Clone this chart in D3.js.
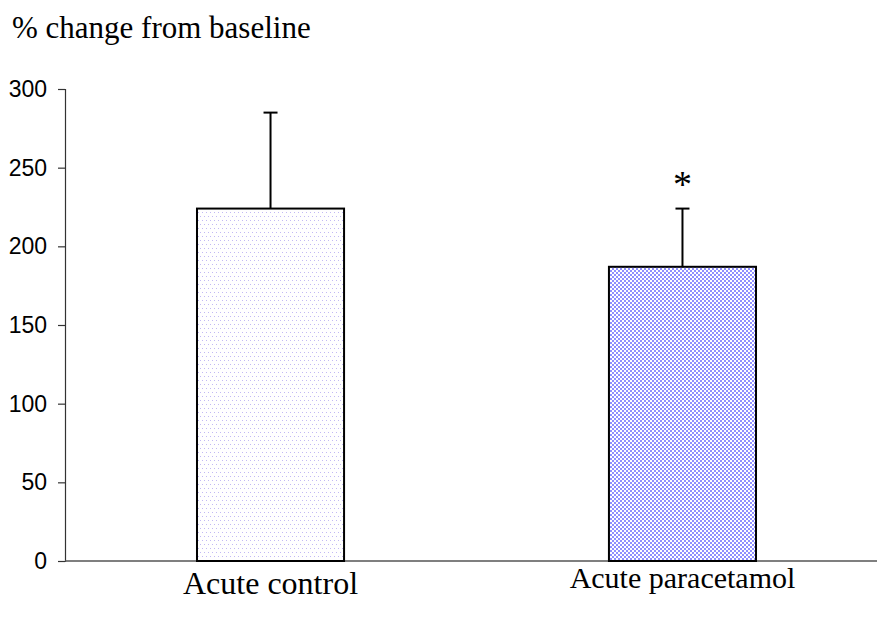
<!DOCTYPE html>
<html>
<head>
<meta charset="utf-8">
<script src="https://cdn.jsdelivr.net/npm/d3@7"></script>
<style>
  html, body { margin: 0; padding: 0; background: #fff; }
  svg { display: block; }
</style>
</head>
<body>
<svg id="chart" width="877" height="623"></svg>
<script>
// Groups, mean % change and upper error (mean + SD)
const categories = ["Acute control", "Acute paracetamol"];
const means = [224, 187];
const errorTops = [285, 224];
const significant = [false, true];
const yTicks = [0, 50, 100, 150, 200, 250, 300];

const svg = d3.select("#chart");
const W = 877, H = 623;
const margin = { left: 65, top: 89, bottom: 62 };

const y = d3.scaleLinear().domain([0, 300]).range([H - margin.bottom, margin.top]);
const x = d3.scaleBand().domain(categories).range([margin.left, 888])
  .paddingInner(0.643).paddingOuter(0.3204);

const serif = "Liberation Serif, Times New Roman, serif";
const sans = "Liberation Sans, Arial, sans-serif";

// Fill patterns
const defs = svg.append("defs");
const dots = defs.append("pattern").attr("id", "dots")
  .attr("patternUnits", "userSpaceOnUse").attr("width", 4).attr("height", 8);
dots.append("rect").attr("width", 4).attr("height", 8).attr("fill", "#fff");
dots.append("rect").attr("x", 0).attr("y", 0).attr("width", 1).attr("height", 1).attr("fill", "#c2b9f3");
dots.append("rect").attr("x", 2).attr("y", 4).attr("width", 1).attr("height", 1).attr("fill", "#c2b9f3");

const checker = defs.append("pattern").attr("id", "checker")
  .attr("patternUnits", "userSpaceOnUse").attr("width", 4).attr("height", 4);
checker.append("rect").attr("width", 4).attr("height", 4).attr("fill", "#fff");
checker.append("rect").attr("x", 0).attr("y", 0).attr("width", 2).attr("height", 2).attr("fill", "#8f8fff");
checker.append("rect").attr("x", 2).attr("y", 2).attr("width", 2).attr("height", 2).attr("fill", "#8f8fff");

const fills = ["url(#dots)", "url(#checker)"];

// Y axis
const yAxis = d3.axisLeft(y).tickValues(yTicks).tickSize(7).tickPadding(11);
const gy = svg.append("g").attr("transform", `translate(${margin.left},0)`).call(yAxis);
gy.select(".domain").attr("stroke", "#333").attr("stroke-width", 1.2);
gy.selectAll(".tick line").attr("stroke", "#333").attr("stroke-width", 1.2);
gy.selectAll(".tick text").attr("font-family", sans)
  .attr("font-size", 23).attr("fill", "#000");

// X axis baseline
svg.append("line").attr("x1", margin.left).attr("x2", W)
  .attr("y1", y(0)).attr("y2", y(0)).attr("stroke", "#555").attr("stroke-width", 1.5);

// Error bars (upper only)
categories.forEach((c, i) => {
  const cx = x(c) + x.bandwidth() / 2;
  svg.append("line").attr("x1", cx).attr("x2", cx)
    .attr("y1", y(means[i])).attr("y2", y(errorTops[i]))
    .attr("stroke", "#000").attr("stroke-width", 2);
  svg.append("line").attr("x1", cx - 7).attr("x2", cx + 7)
    .attr("y1", y(errorTops[i])).attr("y2", y(errorTops[i]))
    .attr("stroke", "#000").attr("stroke-width", 2);
});

// Bars
svg.selectAll("rect.bar").data(categories).join("rect").attr("class", "bar")
  .attr("x", d => x(d)).attr("width", x.bandwidth())
  .attr("y", (d, i) => y(means[i])).attr("height", (d, i) => y(0) - y(means[i]))
  .attr("fill", (d, i) => fills[i]).attr("stroke", "#000").attr("stroke-width", 2);

// Significance marker
categories.forEach((c, i) => {
  if (!significant[i]) return;
  svg.append("text").attr("x", x(c) + x.bandwidth() / 2).attr("y", y(errorTops[i]) - 12)
    .attr("text-anchor", "middle").attr("font-family", serif)
    .attr("font-size", 38).attr("fill", "#000").text("*");
});

// Category labels
const labelY = [594, 588];
const labelSize = [32, 30];
categories.forEach((c, i) => {
  svg.append("text").attr("x", x(c) + x.bandwidth() / 2).attr("y", labelY[i])
    .attr("text-anchor", "middle").attr("font-family", serif)
    .attr("font-size", labelSize[i]).attr("fill", "#000").text(c);
});

// Axis title
svg.append("text").attr("x", 12).attr("y", 38)
  .attr("font-family", serif)
  .attr("font-size", 31).attr("fill", "#000").text("% change from baseline");
</script>
</body>
</html>
